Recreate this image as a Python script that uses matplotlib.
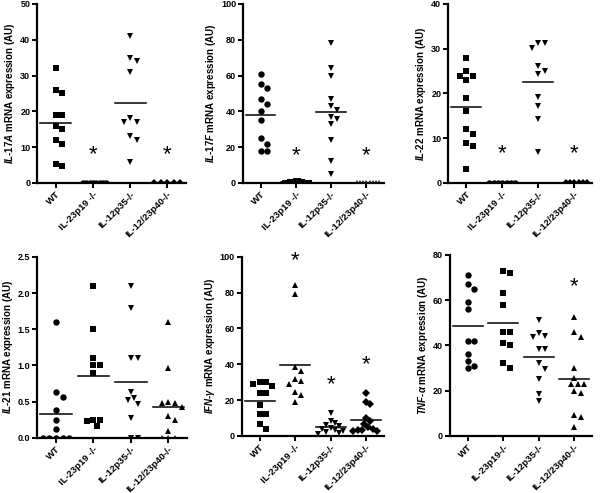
import numpy as np
import matplotlib
matplotlib.use("Agg")
import matplotlib.pyplot as plt

plt.rcParams['font.family'] = ['Liberation Sans', 'DejaVu Sans']
plt.rcParams['font.weight'] = 'bold'
plt.rcParams['mathtext.fontset'] = 'custom'
plt.rcParams['mathtext.it'] = 'Liberation Sans:italic:bold'
plt.rcParams['mathtext.rm'] = 'Liberation Sans:bold'
plt.rcParams['mathtext.bf'] = 'Liberation Sans:bold'

groups = ['WT', 'IL-23p19 -/-', 'IL-12p35-/-', 'IL-12/23p40-/-']
groups_tnf = ['WT', 'IL-23p19-/-', 'IL-12p35-/-', 'IL-12/23p40-/-']

# IL-17A
il17a_wt = [32, 26, 25, 19, 19, 16, 15, 12, 11, 5.3, 4.6]
il17a_p19 = [0, 0, 0, 0, 0, 0, 0, 0]
il17a_p35 = [41, 35, 34, 31, 18, 17, 17, 13, 12, 5.8]
il17a_p40 = [0, 0, 0, 0, 0]
il17a_star = [None, 8, None, 8]

# IL-17F
il17f_wt = [61, 55, 53, 47, 44, 40, 35, 25, 22, 18, 18]
il17f_p19 = [1.0, 0.8, 0.6, 0.5, 0.4, 0.3, 0.3, 0.2, 0.2, 0.1, 0.1, 0]
il17f_p35 = [78, 64, 59.5, 47, 43, 40.5, 37, 35.5, 33, 24, 12, 5]
il17f_p40 = [0, 0, 0, 0, 0, 0, 0, 0]
il17f_star = [None, 15, None, 15]

# IL-22
il22_wt = [28, 25, 24, 24, 23, 19, 16, 12, 11, 9, 8.3, 3.1]
il22_p19 = [0, 0, 0, 0, 0, 0, 0]
il22_p35 = [31.2, 31.2, 30.1, 26.2, 25.1, 24.3, 19.1, 17.1, 14.3, 6.8]
il22_p40 = [0, 0, 0, 0, 0, 0]
il22_star = [None, 6.5, None, 6.5]

# IL-21
il21_wt = [1.6, 0.63, 0.56, 0.38, 0.25, 0.12, 0, 0, 0, 0, 0]
il21_p19 = [2.1, 1.5, 1.1, 1.0, 1.0, 0.9, 0.25, 0.25, 0.23, 0.16]
il21_p35 = [2.1, 1.8, 1.1, 1.1, 0.63, 0.55, 0.52, 0.47, 0.28, 0, 0]
il21_p40 = [1.6, 0.96, 0.5, 0.48, 0.48, 0.43, 0.3, 0.25, 0.1, 0, 0, 0]
il21_star = [None, None, None, None]

# IFN-gamma
ifn_wt = [30, 30, 29, 28, 24, 24, 17, 12, 12, 6.5, 4]
ifn_p19 = [84, 79, 38.6, 36.4, 31.6, 30.8, 28.8, 24.7, 22.9, 18.8]
ifn_p35 = [12.5, 8.5, 7, 6, 5.5, 4.5, 4, 3, 2.5, 2, 1.5, 1]
ifn_p40 = [23.8, 19, 18, 9.9, 8.4, 6.7, 5, 4, 3.3, 3, 2.5, 2.5]
ifn_star = [None, 98, 28.5, 40]

# TNF-alpha
tnf_wt = [71, 67, 65, 59, 56, 42, 42, 36, 33, 31, 30]
tnf_p19 = [73, 72, 63, 58, 46, 46, 41, 40, 32, 30]
tnf_p35 = [51, 45.5, 44.3, 43.6, 38.4, 38.4, 32, 29.6, 25.2, 18.4, 15.5]
tnf_p40 = [52.7, 46.1, 43.9, 29.9, 25.5, 22.8, 22.8, 22.8, 20, 19.1, 9, 8.1, 3.7]
tnf_star = [None, None, None, 66]

panels = [
    dict(series=[il17a_wt, il17a_p19, il17a_p35, il17a_p40], star=il17a_star,
         ylabel=r'$\mathit{IL}$-$\mathit{17A}$ mRNA expression (AU)',
         ymax=50, yticks=np.arange(0, 51, 10), fmt='{:.0f}', labels=groups,
         markers=['s', 'o', 'v', 'D'], rect=[0.062, 0.629, 0.248, 0.363]),
    dict(series=[il17f_wt, il17f_p19, il17f_p35, il17f_p40], star=il17f_star,
         ylabel=r'$\mathit{IL}$-$\mathit{17F}$ mRNA expression (AU)',
         ymax=100, yticks=np.arange(0, 101, 20), fmt='{:.0f}', labels=groups,
         markers=['o', 's', 'v', '^'], rect=[0.405, 0.629, 0.235, 0.363]),
    dict(series=[il22_wt, il22_p19, il22_p35, il22_p40], star=il22_star,
         ylabel=r'$\mathit{IL}$-$\mathit{22}$ mRNA expression (AU)',
         ymax=40, yticks=np.arange(0, 41, 10), fmt='{:.0f}', labels=groups,
         markers=['s', 'o', 'v', 'D'], rect=[0.747, 0.629, 0.24, 0.363]),
    dict(series=[il21_wt, il21_p19, il21_p35, il21_p40], star=il21_star,
         ylabel=r'$\mathit{IL}$-$\mathit{21}$ mRNA expression (AU)',
         ymax=2.5, yticks=np.arange(0, 2.51, 0.5), fmt='{:.1f}', labels=groups,
         markers=['o', 's', 'v', '^'], rect=[0.062, 0.112, 0.25, 0.367]),
    dict(series=[ifn_wt, ifn_p19, ifn_p35, ifn_p40], star=ifn_star,
         ylabel=r'$\mathit{IFN}$-$\mathit{\gamma}$ mRNA expression (AU)',
         ymax=100, yticks=np.arange(0, 101, 20), fmt='{:.0f}', labels=groups,
         markers=['s', '^', 'v', 'D'], rect=[0.403, 0.116, 0.237, 0.363]),
    dict(series=[tnf_wt, tnf_p19, tnf_p35, tnf_p40], star=tnf_star,
         ylabel=r'$\mathit{TNF}$-$\alpha$ mRNA expression (AU)',
         ymax=80, yticks=np.arange(0, 81, 20), fmt='{:.0f}', labels=groups_tnf,
         markers=['o', 's', 'v', '^'], rect=[0.75, 0.116, 0.237, 0.367]),
]


def swarm(vals, ymax, h_px=180.0, unit_px=37.0, d=6.5, maxw=0.36):
    # simple beeswarm: place sorted points at the nearest free horizontal slot
    y = np.asarray(vals, float) / ymax * h_px
    order = np.argsort(-y)
    placed = []
    offs = np.zeros(len(y))
    cands = [0.0]
    for k in range(1, 30):
        cands += [k * d * 0.5, -k * d * 0.5]
    for i in order:
        for c in cands:
            if all((c - px) ** 2 + (y[i] - py) ** 2 >= d * d for px, py in placed):
                offs[i] = c
                placed.append((c, y[i]))
                break
    offs = offs / unit_px
    m = np.abs(offs).max()
    if m > maxw:
        offs = offs * maxw / m
    return offs


fig = plt.figure(figsize=(6.0, 4.93), dpi=100)

for p in panels:
    ax = fig.add_axes(p['rect'])
    for i, (vals, m) in enumerate(zip(p['series'], p['markers'])):
        x = i + swarm(vals, p['ymax'])
        ms = 3.6 if m == 'D' else 4.6
        ax.plot(x, vals, linestyle='none', marker=m, color='black',
                markersize=ms, markeredgewidth=0)
        mean = np.mean(vals)
        ax.plot([i - 0.42, i + 0.42], [mean, mean], color='black', lw=1.1)
        if p['star'][i] is not None:
            ax.text(i, p['star'][i], '*', ha='center', va='center',
                    fontsize=16, fontweight='normal', color='black')
    ax.set_xlim(-0.5, 3.5)
    ax.set_ylim(0, p['ymax'])
    ax.set_yticks(p['yticks'])
    ax.set_yticklabels([p['fmt'].format(t) for t in p['yticks']],
                       fontsize=6.5, fontweight='bold')
    ax.set_xticks(range(4))
    ax.set_xticklabels(p['labels'], rotation=45, ha='right',
                       rotation_mode='anchor', fontsize=6.8, fontweight='bold')
    ax.set_ylabel(p['ylabel'], fontsize=7, fontweight='bold', labelpad=2)
    for s in ['top', 'right']:
        ax.spines[s].set_visible(False)
    for s in ['left', 'bottom']:
        ax.spines[s].set_linewidth(1.6)
    ax.tick_params(direction='out', length=3.5, width=1.4, pad=1.5)
    ax.patch.set_alpha(0)

fig.savefig('out.png', dpi=100)
